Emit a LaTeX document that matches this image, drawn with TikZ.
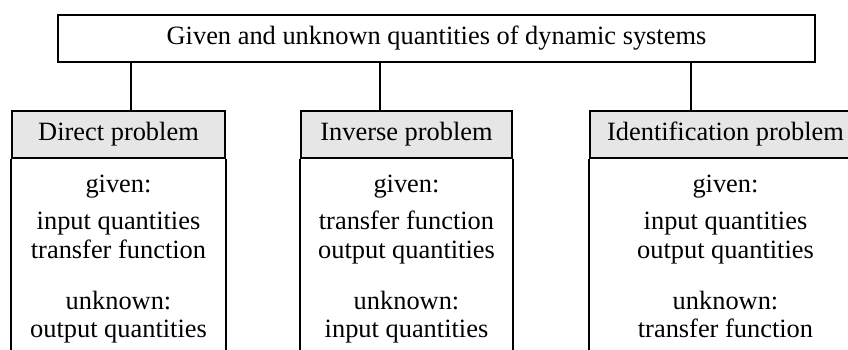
\documentclass[tikz,border=0pt]{standalone}
\usepackage{fontspec}
\setmainfont{Liberation Serif}
\definecolor{hdrgray}{HTML}{E6E6E6}
\begin{document}
\begin{tikzpicture}[x=0.5pt,y=-0.5pt,line width=1.1pt,
  txt/.style={font=\fontsize{13.2}{15}\selectfont, inner sep=0pt, anchor=base},
  topbox/.style={draw, minimum width=378.5pt, minimum height=23.5pt, inner sep=0pt, font=\fontsize{13.2}{15}\selectfont},
  hdr/.style={draw, fill=hdrgray, minimum height=23.5pt, inner sep=0pt, font=\fontsize{13.2}{15}\selectfont}]
\useasboundingbox (0,0) rectangle (848,349);
\clip (0,0) rectangle (848,349);
\node[topbox] (top) at (436.5,38.5) {Given and unknown quantities of dynamic systems};
\node[hdr, minimum width=106.5pt] (direct) at (118.5,134.5) {Direct problem};
\node[hdr, minimum width=105.5pt] (inverse) at (406.5,134.5) {Inverse problem};
\node[hdr, minimum width=135.5pt] (ident) at (725.5,134.5) {Identification problem};
\coordinate (c1) at (131,0);
\coordinate (c2) at (380,0);
\coordinate (c3) at (691,0);
\draw (c1 |- top.south) -- (c1 |- direct.north);
\draw (c2 |- top.south) -- (c2 |- inverse.north);
\draw (c3 |- top.south) -- (c3 |- ident.north);
\foreach \n in {direct,inverse,ident}{
  \draw (\n.south west) -- ++(0,220);
  \draw (\n.south east) -- ++(0,220);
}
% Direct column
\node[txt] (d1) at (118.5,192) {given:};
\node[txt] (d2) at (118.5,229) {input quantities};
\node[txt] (d3) at (118.5,258) {transfer function};
\node[txt] (d4) at (118.5,309) {unknown:};
\node[txt] (d5) at (118.5,337) {output quantities};
% Inverse column
\node[txt] (i1) at (406.5,192) {given:};
\node[txt] (i2) at (406.5,229) {transfer function};
\node[txt] (i3) at (406.5,258) {output quantities};
\node[txt] (i4) at (406.5,309) {unknown:};
\node[txt] (i5) at (406.5,337) {input quantities};
% Identification column
\node[txt] (e1) at (725.5,192) {given:};
\node[txt] (e2) at (725.5,229) {input quantities};
\node[txt] (e3) at (725.5,258) {output quantities};
\node[txt] (e4) at (725.5,309) {unknown:};
\node[txt] (e5) at (725.5,337) {transfer function};
\end{tikzpicture}
\end{document}
